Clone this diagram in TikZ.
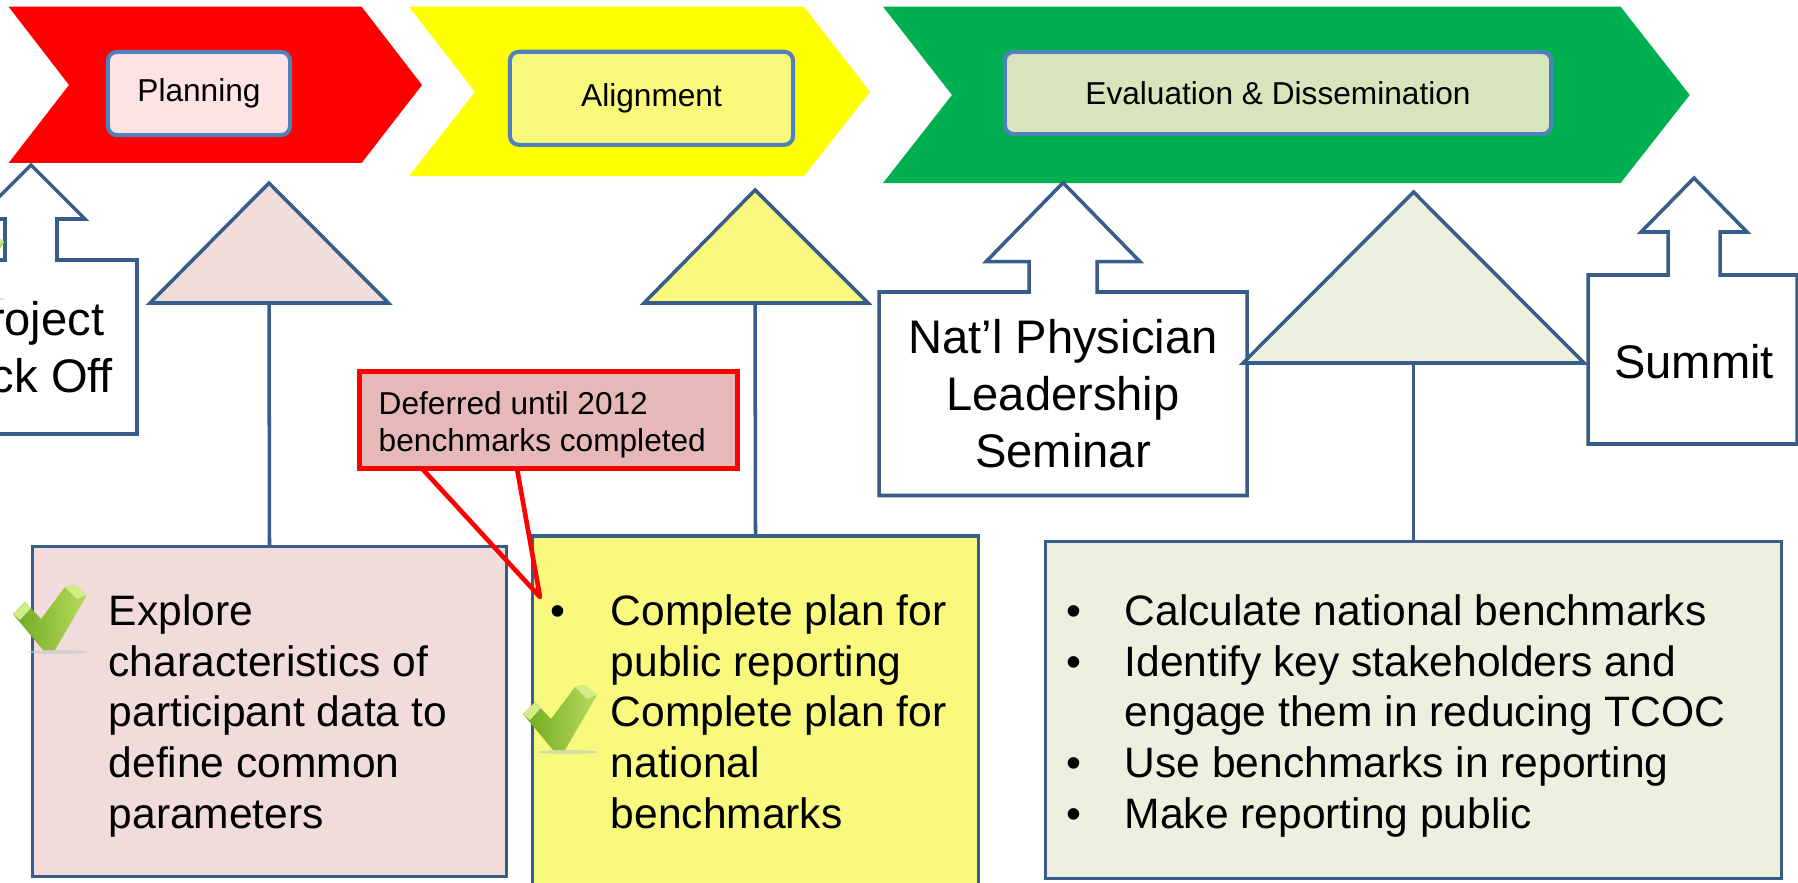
\documentclass[tikz,border=0pt]{standalone}
\usepackage{fontspec}
\setmainfont{Liberation Sans}
\usepackage{xcolor}

\definecolor{hdrblue}{HTML}{4F81BD}
\definecolor{lineblue}{HTML}{385D8A}
\definecolor{chevred}{HTML}{FF0000}
\definecolor{chevyellow}{HTML}{FFFF00}
\definecolor{chevgreen}{HTML}{00B050}
\definecolor{planfill}{HTML}{FDE4E4}
\definecolor{alignfill}{HTML}{F8F87C}
\definecolor{evalfill}{HTML}{D8E4BC}
\definecolor{pinkfill}{HTML}{F2DCDB}
\definecolor{yelfill}{HTML}{F9F97E}
\definecolor{grnfill}{HTML}{EBF1DE}
\definecolor{notefill}{HTML}{E6B9B8}
\definecolor{tickdark}{HTML}{6FA820}
\definecolor{ticklight}{HTML}{B7DC5B}
\definecolor{tickhi}{HTML}{D2EC86}

\tikzset{
  hdrbox/.style={draw=hdrblue, line width=1.15pt, rounded corners=2.5pt, inner sep=0pt, font=\fontsize{9pt}{10.7pt}\selectfont},
  outl/.style={draw=lineblue, line width=1pt},
  bodytext/.style={inner sep=0pt, font=\fontsize{12.1pt}{14.5pt}\selectfont},
  bigtext/.style={inner sep=0pt, font=\fontsize{13.4pt}{16.3pt}\selectfont},
  notetext/.style={inner sep=0pt, font=\fontsize{9pt}{10.7pt}\selectfont},
  donetick/.pic={
    \fill[gray!45, opacity=.6] (45,67) ellipse [x radius=0.3cm, y radius=0.02cm];
    \shade[left color=tickdark, right color=ticklight] (0,29) -- (12,17) -- (28,34) -- (52,2) -- (62,0) -- (74,10) -- (42,65) -- (30,65) -- cycle;
    \fill[tickhi] (52,2) -- (62,0) -- (74,10) -- (64,14) -- cycle;
    \fill[tickhi] (0,29) -- (12,17) -- (18,23) -- (7,35) -- cycle;
  }
}

\begin{document}
\begin{tikzpicture}[x=0.01cm, y=-0.01cm]
\fill[white] (0,0) rectangle (1798,882);
\useasboundingbox (0,0) rectangle (1798,882);

% phase chevrons
\fill[chevred] (8.6,6.7) -- (361.6,6.7) -- (422,85) -- (361.6,163) -- (8.6,163) -- (69,85) -- cycle;
\fill[chevyellow] (409,6.7) -- (804,6.7) -- (870,92) -- (804,176) -- (409,176) -- (475,92) -- cycle;
\fill[chevgreen] (883,6.7) -- (1620.6,6.7) -- (1689.7,95) -- (1620.6,183) -- (883,183) -- (952,95) -- cycle;

\node[hdrbox, fill=planfill, minimum width=1.82cm, minimum height=0.83cm] (planHdr) at (199,93.5) {Planning};
\node[hdrbox, fill=alignfill, minimum width=2.83cm, minimum height=0.93cm] (alignHdr) at (651.5,98.3) {Alignment};
\node[hdrbox, fill=evalfill, minimum width=5.46cm, minimum height=0.82cm] (evalHdr) at (1278,93) {Evaluation \& Dissemination};

% milestone arrows
\filldraw[outl, fill=white] (-75,434) -- (-75,260) -- (5,260) -- (5,219) -- (-23,219) -- (31,165) -- (85,219) -- (57,219) -- (57,260) -- (137,260) -- (137,434) -- cycle;
\filldraw[outl, fill=white] (879,495.5) -- (879,292) -- (1029,292) -- (1029,261.7) -- (986,261.7) -- (1063,182.7) -- (1140,261.7) -- (1097,261.7) -- (1097,292) -- (1247,292) -- (1247,495.5) -- cycle;
\filldraw[outl, fill=white] (1588,444) -- (1588,275) -- (1668,275) -- (1668,232) -- (1641,232) -- (1694,178) -- (1747,232) -- (1720,232) -- (1720,275) -- (1797,275) -- (1797,444) -- cycle;

\node[bigtext, anchor=base] (kickText) at (31,335) {\begin{tabular}[t]{@{}c@{}}Project\\Kick Off\end{tabular}};
\node[bigtext, anchor=base] (seminarText) at (1063,353) {\begin{tabular}[t]{@{}c@{}}Nat'l Physician\\Leadership\\Seminar\end{tabular}};
\node[bigtext, anchor=base] (summitText) at (1694,378) {Summit};

% activity triangles
\filldraw[outl, fill=pinkfill] (269,183) -- (388.5,303) -- (150,303) -- cycle;
\coordinate (planBase) at (269,303);
\filldraw[outl, fill=yelfill] (755,190) -- (868,303) -- (644,303) -- cycle;
\coordinate (alignBase) at (755,303);
\filldraw[outl, fill=grnfill] (1413.5,192) -- (1584,363) -- (1243,363) -- cycle;
\coordinate (evalBase) at (1413.5,363);

\node[outl, fill=pinkfill, minimum width=4.735cm, minimum height=3.295cm] (planBox) at (269.5,711.5) {};
\node[outl, fill=yelfill, minimum width=4.455cm, minimum height=3.54cm] (alignBox) at (755.5,713) {};
\node[outl, fill=grnfill, minimum width=7.355cm, minimum height=3.365cm] (evalBox) at (1413.5,710) {};

\draw[outl] (planBase) -- (planBox.north);
\draw[outl] (alignBase) -- (alignBox.north);
\draw[outl] (evalBase) -- (evalBox.north);

\node[bodytext, anchor=base west] (planText) at (108,625) {\begin{tabular}[t]{@{}l@{}}Explore\\characteristics of\\participant data to\\define common\\parameters\end{tabular}};
\node[bodytext, anchor=base west] (alignText) at (549.6,625) {\begin{tabular}[t]{@{}p{17.2pt}@{}l@{}}\textbullet & Complete plan for\\ & public reporting\\ & Complete plan for\\ & national\\ & benchmarks\end{tabular}};
\node[bodytext, anchor=base west] (evalText) at (1065.6,625) {\begin{tabular}[t]{@{}p{16.6pt}@{}l@{}}\textbullet & Calculate national benchmarks\\\textbullet & Identify key stakeholders and\\ & engage them in reducing TCOC\\\textbullet & Use benchmarks in reporting\\\textbullet & Make reporting public\end{tabular}};

% deferred note
\node[draw=chevred, line width=1.42pt, fill=notefill, minimum width=3.77cm, minimum height=0.965cm] (noteBox) at (548.5,420.25) {};
\node[notetext, anchor=base west] (noteText) at (378,414.3) {\begin{tabular}[t]{@{}l@{}}Deferred until 2012\\benchmarks completed\end{tabular}};
\coordinate (noteA) at (422,468.5);
\coordinate (noteB) at (517,468.5);
\coordinate (noteTip) at (540,597);
\draw[chevred, line width=1.32pt, line join=round] (noteA) -- (noteTip) -- (noteB);

% check marks
\pic at (13,585) {donetick};
\pic at (523,685) {donetick};
\pic at (-70,232) {donetick};
\end{tikzpicture}
\end{document}
